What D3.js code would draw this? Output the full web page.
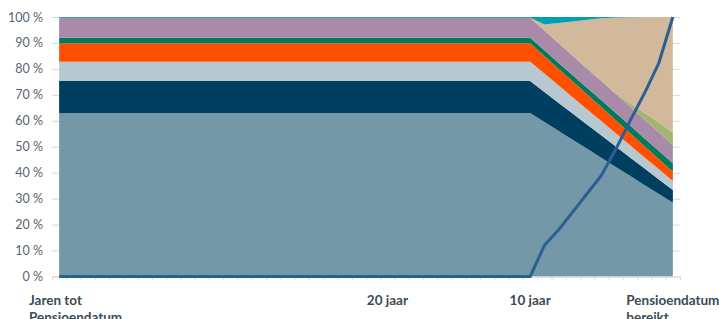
<!DOCTYPE html>
<html>
<head>
<meta charset="utf-8">
<script src="https://cdn.jsdelivr.net/npm/d3@7"></script>
<style>
  body { margin: 0; background: #fff; }
  svg { display: block; }
  .y-axis text { font-family: Lato, sans-serif; font-size: 12.5px; fill: #5a6470; }
  .x-label { font-family: Lato, sans-serif; font-size: 13.5px; font-weight: bold; fill: #3d4a54; }
</style>
</head>
<body>
<svg id="chart" width="719" height="319"></svg>
<script>
// years until pension date, 43 down to 0
const years = [43, 42, 41, 40, 39, 38, 37, 36, 35, 34, 33, 32, 31, 30, 29, 28, 27, 26, 25, 24, 23, 22,
               21, 20, 19, 18, 17, 16, 15, 14, 13, 12, 11, 10, 9, 8, 7, 6, 5, 4, 3, 2, 1, 0];

// stacked shares (%), bottom to top
const grayBlue = [63, 63, 63, 63, 63, 63, 63, 63, 63, 63, 63, 63, 63, 63, 63, 63, 63, 63, 63, 63, 63, 63,
                  63, 63, 63, 63, 63, 63, 63, 63, 63, 63, 63, 63, 59.5, 56.1, 52.6, 49.2, 45.7, 42.2, 38.8, 35.3, 31.9, 28.4];
const navy = [12.3, 12.3, 12.3, 12.3, 12.3, 12.3, 12.3, 12.3, 12.3, 12.3, 12.3, 12.3, 12.3, 12.3, 12.3, 12.3, 12.3, 12.3, 12.3, 12.3, 12.3, 12.3,
              12.3, 12.3, 12.3, 12.3, 12.3, 12.3, 12.3, 12.3, 12.3, 12.3, 12.3, 12.3, 11.6, 10.8, 10.1, 9.3, 8.6, 7.9, 7.1, 6.4, 5.6, 4.9];
const lightGray = [7.5, 7.5, 7.5, 7.5, 7.5, 7.5, 7.5, 7.5, 7.5, 7.5, 7.5, 7.5, 7.5, 7.5, 7.5, 7.5, 7.5, 7.5, 7.5, 7.5, 7.5, 7.5,
                   7.5, 7.5, 7.5, 7.5, 7.5, 7.5, 7.5, 7.5, 7.5, 7.5, 7.5, 7.5, 7.1, 6.7, 6.3, 5.9, 5.5, 5.1, 4.7, 4.3, 3.9, 3.5];
const orange = [7.1, 7.1, 7.1, 7.1, 7.1, 7.1, 7.1, 7.1, 7.1, 7.1, 7.1, 7.1, 7.1, 7.1, 7.1, 7.1, 7.1, 7.1, 7.1, 7.1, 7.1, 7.1,
                7.1, 7.1, 7.1, 7.1, 7.1, 7.1, 7.1, 7.1, 7.1, 7.1, 7.1, 7.1, 6.8, 6.4, 6.1, 5.7, 5.4, 5.0, 4.7, 4.3, 4.0, 3.6];
const green = [2.1, 2.1, 2.1, 2.1, 2.1, 2.1, 2.1, 2.1, 2.1, 2.1, 2.1, 2.1, 2.1, 2.1, 2.1, 2.1, 2.1, 2.1, 2.1, 2.1, 2.1, 2.1,
               2.1, 2.1, 2.1, 2.1, 2.1, 2.1, 2.1, 2.1, 2.1, 2.1, 2.1, 2.1, 2.2, 2.3, 2.4, 2.5, 2.7, 2.8, 2.9, 3.0, 3.1, 3.2];
const mauve = [7.7, 7.7, 7.7, 7.7, 7.7, 7.7, 7.7, 7.7, 7.7, 7.7, 7.7, 7.7, 7.7, 7.7, 7.7, 7.7, 7.7, 7.7, 7.7, 7.7, 7.7, 7.7,
               7.7, 7.7, 7.7, 7.7, 7.7, 7.7, 7.7, 7.7, 7.7, 7.7, 7.7, 7.7, 7.6, 7.6, 7.5, 7.5, 7.4, 7.3, 7.3, 7.2, 7.2, 7.1];
const lightGreen = [0, 0, 0, 0, 0, 0, 0, 0, 0, 0, 0, 0, 0, 0, 0, 0, 0, 0, 0, 0, 0, 0,
                    0, 0, 0, 0, 0, 0, 0, 0, 0, 0, 0, 0, 0, 0, 0, 0, 0, 0.2, 1.3, 2.6, 3.8, 4.7];
const beige = [0, 0, 0, 0, 0, 0, 0, 0, 0, 0, 0, 0, 0, 0, 0, 0, 0, 0, 0, 0, 0, 0,
               0, 0, 0, 0, 0, 0, 0, 0, 0, 0, 0, 0, 2.3, 7.8, 13.3, 18.8, 24.2, 29.3, 33.1, 36.9, 40.5, 44.6];
const teal = [0.3, 0.3, 0.3, 0.3, 0.3, 0.3, 0.3, 0.3, 0.3, 0.3, 0.3, 0.3, 0.3, 0.3, 0.3, 0.3, 0.3, 0.3, 0.3, 0.3, 0.3, 0.3,
              0.3, 0.3, 0.3, 0.3, 0.3, 0.3, 0.3, 0.3, 0.3, 0.3, 0.3, 0.3, 2.9, 2.3, 1.7, 1.1, 0.5, 0.2, 0.1, 0, 0, 0];

// line series (%)
const lineValues = [0, 0, 0, 0, 0, 0, 0, 0, 0, 0, 0, 0, 0, 0, 0, 0, 0, 0, 0, 0, 0, 0,
                    0, 0, 0, 0, 0, 0, 0, 0, 0, 0, 0, 0, 12, 18, 25, 32, 39, 49, 60, 70.5, 82, 100];

const yTicks = [0, 10, 20, 30, 40, 50, 60, 70, 80, 90, 100];
const xLabels = [
    {year: 43, lines: ["Jaren tot", "Pensioendatum"]},
    {year: 20, lines: ["20 jaar"]},
    {year: 10, lines: ["10 jaar"]},
    {year: 0, lines: ["Pensioendatum", "bereikt"]}
];

const seriesList = [
    {key: "grayBlue", values: grayBlue, color: "#7598a8"},
    {key: "navy", values: navy, color: "#003f60"},
    {key: "lightGray", values: lightGray, color: "#b8c8d1"},
    {key: "orange", values: orange, color: "#ff5000"},
    {key: "green", values: green, color: "#007a5c"},
    {key: "mauve", values: mauve, color: "#a98aa8"},
    {key: "lightGreen", values: lightGreen, color: "#a2b672"},
    {key: "beige", values: beige, color: "#d2b99c"},
    {key: "teal", values: teal, color: "#00a0b0"}
];

const rows = years.map((yr, i) => {
    const row = {year: yr};
    seriesList.forEach(s => { row[s.key] = s.values[i]; });
    return row;
});

const svg = d3.select("#chart");
const plot = {left: 52, right: 680, top: 17, bottom: 276.5};

const x = d3.scaleLinear().domain([43.5, -0.5]).range([plot.left, plot.right]);
const y = d3.scaleLinear().domain([0, 100]).range([plot.bottom, plot.top]);

// gridlines + y labels
const yAxis = svg.append("g")
    .attr("class", "y-axis")
    .attr("transform", `translate(${plot.left},0)`)
    .call(d3.axisLeft(y).tickValues(yTicks).tickSize(-(plot.right - plot.left)).tickPadding(9).tickFormat(d => d + " %"));
yAxis.select(".domain").remove();
yAxis.selectAll(".tick line").attr("stroke", "#d9d9d9");

// stacked areas
const stack = d3.stack().keys(seriesList.map(s => s.key));
const layers = stack(rows);
const area = d3.area()
    .x(d => x(d.data.year))
    .y0(d => y(d[0]))
    .y1(d => y(d[1]));

svg.append("g")
    .selectAll("path")
    .data(layers)
    .enter().append("path")
    .attr("d", area)
    .attr("fill", (d, i) => seriesList[i].color);

// x axis: ticks on category edges
const edges = d3.range(43.5, -1, -1);
const xAxis = svg.append("g")
    .attr("transform", `translate(0,${plot.bottom})`)
    .call(d3.axisBottom(x).tickValues(edges).tickSizeInner(4).tickSizeOuter(0).tickFormat(""));
xAxis.select(".domain").attr("stroke", "#d9d9d9");
xAxis.selectAll(".tick line").attr("stroke", "#d9d9d9");

// line
const line = d3.line()
    .x((d, i) => x(years[i]))
    .y(d => y(d));
svg.append("path")
    .datum(lineValues)
    .attr("d", line)
    .attr("fill", "none")
    .attr("stroke", "#2b5f94")
    .attr("stroke-width", 3)
    .attr("stroke-linejoin", "round");

// x labels, lines left-aligned in a block centred on the category
xLabels.forEach(lbl => {
    const t = svg.append("text").attr("class", "x-label").attr("y", 305);
    lbl.lines.forEach((ln, i) => {
        t.append("tspan").attr("x", 0).attr("dy", i === 0 ? 0 : 17).text(ln);
    });
    const w = t.node().getBBox().width;
    const bx = Math.max(29, x(lbl.year) - w / 2);
    t.selectAll("tspan").attr("x", bx);
});
</script>
</body>
</html>
